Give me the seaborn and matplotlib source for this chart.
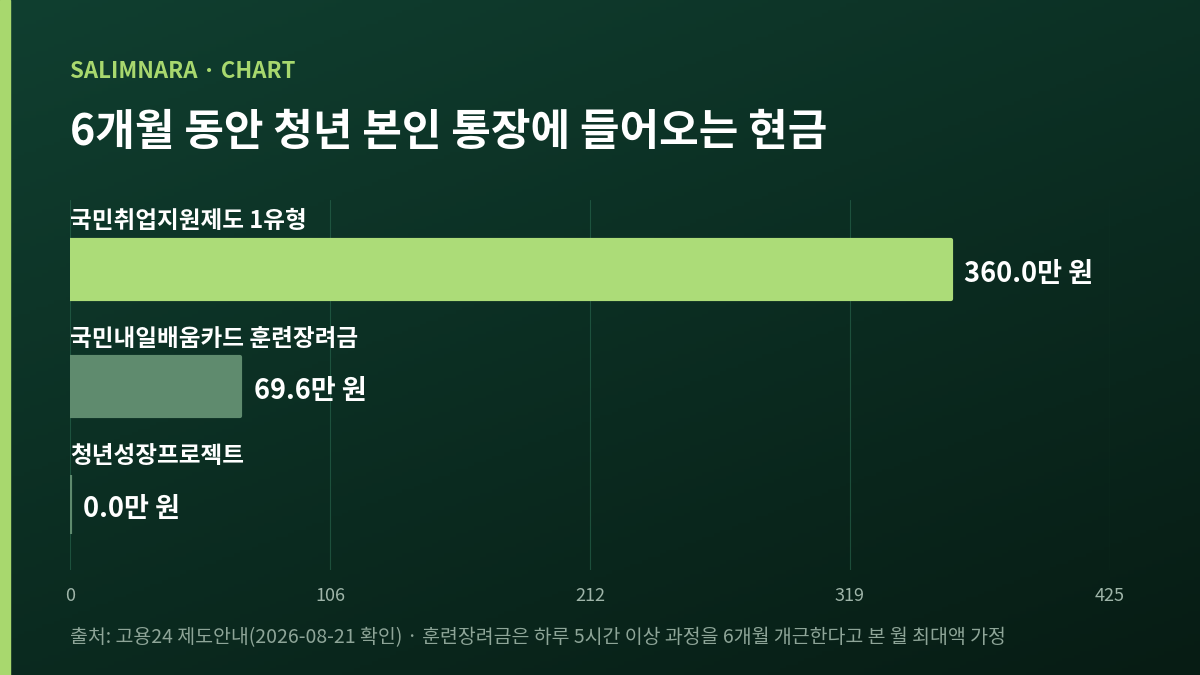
import numpy as np
import pandas as pd
import matplotlib
matplotlib.use('Agg')
import matplotlib.pyplot as plt
import seaborn as sns

# data
categories = ['국민취업지원제도 1유형', '국민내일배움카드 훈련장려금', '청년성장프로젝트']
values = [360.0, 69.6, 0.0]
bar_colors = ['#acdc78', '#5f8b6e', '#5f8b6e']
x_max = 425
tick_vals = [0, 106.25, 212.5, 318.75, 425]
tick_labels = ['0', '106', '212', '319', '425']

sns.set_theme(style='white')
plt.rcParams['font.family'] = ['Noto Sans CJK KR', 'DejaVu Sans']

fig = plt.figure(figsize=(12, 6.75), dpi=100)

# background gradient
bg = fig.add_axes([0, 0, 1, 1])
gy, gx = np.mgrid[0:1:200j, 0:1:200j]
grad = 0.6 * gy + 0.4 * gx
top = np.array([0x10, 0x3f, 0x30]) / 255
bot = np.array([0x07, 0x1c, 0x14]) / 255
img = top[None, None, :] * (1 - grad[..., None]) + bot[None, None, :] * grad[..., None]
bg.imshow(img, aspect='auto', extent=[0, 1, 0, 1])
bg.axvspan(0, 10 / 1200, color='#a8d86e')
bg.set_xlim(0, 1)
bg.set_ylim(0, 1)
bg.axis('off')

ax = fig.add_axes([70 / 1200, 1 - 570 / 675, 1040 / 1200, 370 / 675])
ax.patch.set_alpha(0)
df = pd.DataFrame({'cat': categories, 'val': values})
sns.barplot(data=df, y='cat', x='val', hue='cat', palette=bar_colors,
            orient='h', width=0.5, legend=False, ax=ax, saturation=1)
for p, c in zip(ax.patches, bar_colors):
    p.set_edgecolor(c)
    p.set_linewidth(3)
    p.set_joinstyle('round')

ax.set_xlim(0, x_max)
ax.set_ylim(2.557, -0.587)
ax.set_xticks(tick_vals)
ax.set_xticklabels(tick_labels, color='#9fb5a9', fontsize=13)
ax.tick_params(axis='x', length=0, pad=12)
ax.set_yticks([])
ax.set_xlabel('')
ax.set_ylabel('')
for x in tick_vals:
    ax.axvline(x, color='#2a6a50', lw=0.8, alpha=0.6, zorder=0)
for s in ax.spines.values():
    s.set_visible(False)

for i, (c, v) in enumerate(zip(categories, values)):
    ax.text(0, i - 0.41, c, color='white', fontsize=17, fontweight='bold',
            va='center', ha='left')
    ax.text(v + 5.5, i + 0.04, f'{v:.1f}만 원', color='white', fontsize=19.5,
            fontweight='bold', va='center', ha='left')

fig.text(70 / 1200, 1 - 71 / 675, 'SALIMNARA · CHART', color='#a8d86e',
         fontsize=16, fontweight='bold', va='center')
fig.text(70 / 1200, 1 - 132 / 675, '6개월 동안 청년 본인 통장에 들어오는 현금',
         color='white', fontsize=31, fontweight='bold', va='center')
fig.text(70 / 1200, 1 - 638 / 675,
         '출처: 고용24 제도안내(2026-08-21 확인) · 훈련장려금은 하루 5시간 이상 과정을 6개월 개근한다고 본 월 최대액 가정',
         color='#8ea598', fontsize=14, va='center')

fig.savefig('out.png', dpi=100)
